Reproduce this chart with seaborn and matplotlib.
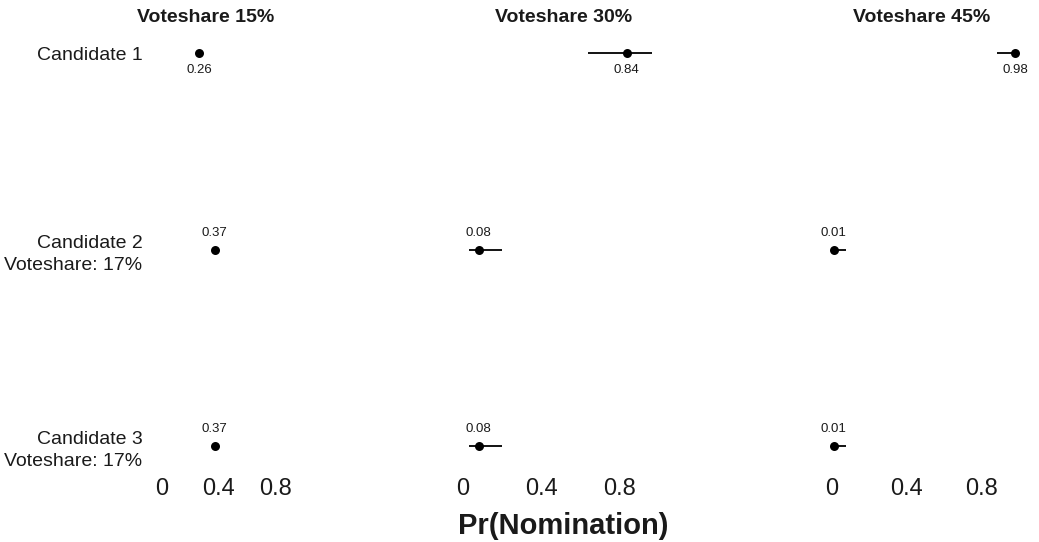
"""
plot.py - Pr(Nomination) by candidate for three vote-share scenarios
"""

import numpy as np
import pandas as pd
import matplotlib

matplotlib.use("Agg")
import matplotlib.pyplot as plt
import seaborn as sns

# ========== 数据 ==========
panel_titles = ["Voteshare 15%", "Voteshare 30%", "Voteshare 45%"]
candidate_labels = [
    "Candidate 1",
    "Candidate 2\nVoteshare: 17%",
    "Candidate 3\nVoteshare: 17%",
]

# point estimates, one list per panel (candidate 1, 2, 3)
est_15 = [0.26, 0.37, 0.37]
est_30 = [0.84, 0.08, 0.08]
est_45 = [0.98, 0.01, 0.01]

# interval ends
lo_15 = [0.245, 0.37, 0.37]
hi_15 = [0.275, 0.37, 0.37]
lo_30 = [0.64, 0.03, 0.03]
hi_30 = [0.97, 0.20, 0.20]
lo_45 = [0.88, 0.01, 0.01]
hi_45 = [0.98, 0.075, 0.075]

value_labels = [
    ["0.26", "0.37", "0.37"],
    ["0.84", "0.08", "0.08"],
    ["0.98", "0.01", "0.01"],
]
x_ticks = [0, 0.4, 0.8]
x_tick_labels = ["0", "0.4", "0.8"]

# long table for seaborn
rows = []
for p, (est, lo, hi) in enumerate(
    [(est_15, lo_15, hi_15), (est_30, lo_30, hi_30), (est_45, lo_45, hi_45)]
):
    for c in range(3):
        rows.append(
            {"panel": p, "cand": c, "est": est[c], "lo": lo[c], "hi": hi[c],
             "label": value_labels[p][c]}
        )
df = pd.DataFrame(rows)

# ========== 配置 ==========
sns.set_theme(style="white")
plt.rcParams["font.family"] = ["Liberation Sans", "DejaVu Sans"]

W, H = 1039, 542
fig = plt.figure(figsize=(W / 100, H / 100), dpi=100)

# pixel layout per panel: where x=0 sits, pixels per unit
zero_px = [162, 463, 832]
unit_px = [142, 195, 187]
xlim = (-0.05, 1.05)
top_px, bot_px = 35, 470
row_px = 196.5  # pixels between candidate rows
ylim = (2 + (bot_px - 446) / row_px, -(53 - top_px) / row_px)
title_x = [206, 564, 922]

for p in range(3):
    left = zero_px[p] + xlim[0] * unit_px[p]
    width = (xlim[1] - xlim[0]) * unit_px[p]
    ax = fig.add_axes(
        [left / W, 1 - bot_px / H, width / W, (bot_px - top_px) / H]
    )
    sub = df[df["panel"] == p]

    ax.hlines(sub["cand"], sub["lo"], sub["hi"], color="black", linewidth=1.3)
    sns.scatterplot(
        data=sub, x="est", y="cand", ax=ax, color="black", s=42,
        edgecolor="black", linewidth=0, legend=False, zorder=3,
    )
    for _, r in sub.iterrows():
        dy = -12 if r["cand"] == 0 else 12
        ax.annotate(
            r["label"], (r["est"], r["cand"]), xytext=(0, dy),
            textcoords="offset points", ha="center", va="center",
            fontsize=9.5, color="#1a1a1a",
        )

    ax.set_xlim(*xlim)
    ax.set_ylim(*ylim)
    ax.set_xticks(x_ticks)
    ax.set_xticklabels(x_tick_labels, fontsize=17, color="#1a1a1a")
    ax.set_yticks([0, 1, 2])
    if p == 0:
        ax.set_yticklabels(candidate_labels, fontsize=14, ha="right",
                           multialignment="right", color="#1a1a1a",
                           linespacing=1.4)
    else:
        ax.set_yticklabels([])
    ax.tick_params(axis="x", length=0, pad=6)
    ax.tick_params(axis="y", length=0, pad=9)
    ax.set_xlabel("")
    ax.set_ylabel("")
    ax.patch.set_alpha(0)
    sns.despine(ax=ax, left=True, bottom=True)

    fig.text(title_x[p] / W, 1 - 17 / H, panel_titles[p], ha="center",
             va="center", fontsize=14, fontweight="bold", color="#1a1a1a")

fig.text(563 / W, 1 - 526 / H, "Pr(Nomination)", ha="center", va="center",
         fontsize=21, fontweight="bold", color="#1a1a1a")

plt.savefig("out.png", dpi=100)
